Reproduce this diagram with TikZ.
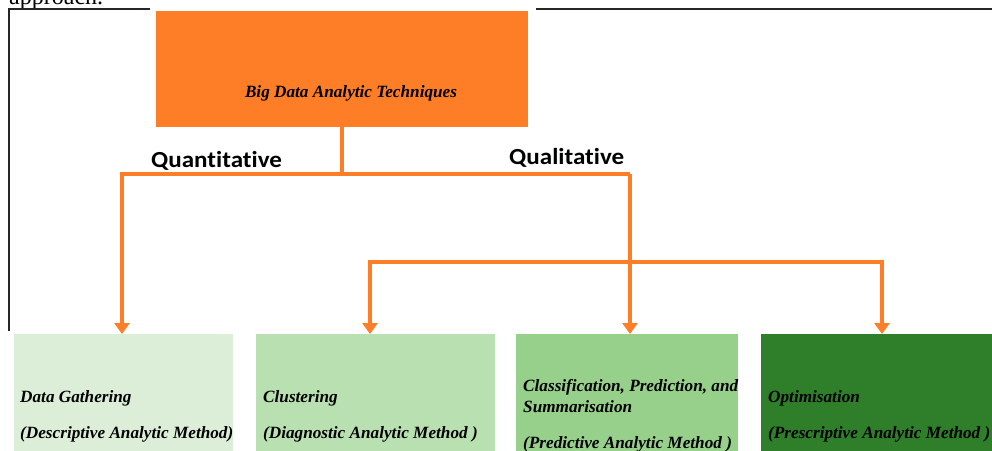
\documentclass[tikz,border=0pt]{standalone}
\usepackage{fontspec}
\setmainfont{Liberation Serif}
\newfontfamily\calfont[Ligatures={NoCommon}]{Carlito}
\usetikzlibrary{arrows.meta}
\definecolor{orng}{RGB}{253,126,38}
\definecolor{gA}{RGB}{220,238,216}
\definecolor{gB}{RGB}{185,224,176}
\definecolor{gC}{RGB}{150,208,138}
\definecolor{gD}{RGB}{46,126,42}
\tikzset{
  conn/.style={draw=orng, line width=4.2pt, line join=miter},
  arr/.style={conn, -{Triangle[length=11pt,width=15pt]}},
  boxA/.style={anchor=north west, inner sep=0pt, outer sep=0pt, draw=none},
  btext/.style={anchor=base west, inner sep=0pt, font=\fontsize{17.2}{20}\selectfont\bfseries\itshape, align=left},
  lbl/.style={anchor=base west, inner sep=0pt, font=\calfont\fontsize{23}{26}\selectfont\bfseries},
  frame/.style={draw=black!85, line width=1.2pt}
}
\begin{document}
\begin{tikzpicture}[x=1pt,y=-1pt]
\useasboundingbox (0,0) rectangle (992,450);
% clipped text above the frame
\node[anchor=base west, inner sep=0pt, font=\fontsize{24}{28}\selectfont] (appr) at (9,4) {approach.};
% frame
\coordinate (f1) at (150,9);
\coordinate (f0) at (9,9);
\coordinate (f2) at (9,331);
\coordinate (f3) at (536,9);
\coordinate (f4) at (992,9);
\draw[frame] (f1) -- (f0) -- (f2);
\draw[frame] (f3) -- (f4);
% top box
\node[boxA, fill=orng, minimum width=372pt, minimum height=116pt] (top) at (156,11) {};
\node[anchor=base, inner sep=0pt, font=\fontsize{17.2}{20}\selectfont\bfseries\itshape] (toptxt) at (351,97.5) {Big Data Analytic Techniques};
% bottom boxes
\node[boxA, fill=gA, minimum width=219pt, minimum height=130pt] (b1) at (14,334) {};
\node[boxA, fill=gB, minimum width=239pt, minimum height=130pt] (b2) at (256,334) {};
\node[boxA, fill=gC, minimum width=222pt, minimum height=130pt] (b3) at (516,334) {};
\node[boxA, fill=gD, minimum width=240pt, minimum height=130pt] (b4) at (761,334) {};
% texts
\node[btext] (t1a) at (20,402.5) {Data Gathering};
\node[btext] (t1b) at (20,438) {(Descriptive Analytic Method)};
\node[btext] (t2a) at (263,402.5) {Clustering};
\node[btext] (t2b) at (263,438) {(Diagnostic Analytic Method )};
\node[btext] (t3a) at (523,391.5) {Classification, Prediction, and};
\node[btext] (t3b) at (523,412) {Summarisation};
\node[btext] (t3c) at (523,448) {(Predictive Analytic Method )};
\node[btext] (t4a) at (768,402.5) {Optimisation};
\node[btext] (t4b) at (768,438) {(Prescriptive Analytic Method )};
% labels
\node[lbl] (quan) at (151,167) {\scalebox{1.09}[1]{Quantitative}};
\node[lbl] (qual) at (509,164) {\scalebox{1.09}[1]{Qualitative}};
% connectors
\coordinate (jT) at (top.south |- 0,174);
\coordinate (jL) at (122,174);
\coordinate (jR) at (630,174);
\coordinate (kL) at (370,262);
\coordinate (kR) at (882,262);
\draw[conn] (top.south) -- (jT);
\draw[arr] (jR) -- (jL) -- (jL |- b1.north);
\draw[arr] (jR) -- (jR |- b3.north);
\draw[arr] (kR) -- (kL) -- (kL |- b2.north);
\draw[arr] (kL) -- (kR) -- (kR |- b4.north);
\end{tikzpicture}
\end{document}
